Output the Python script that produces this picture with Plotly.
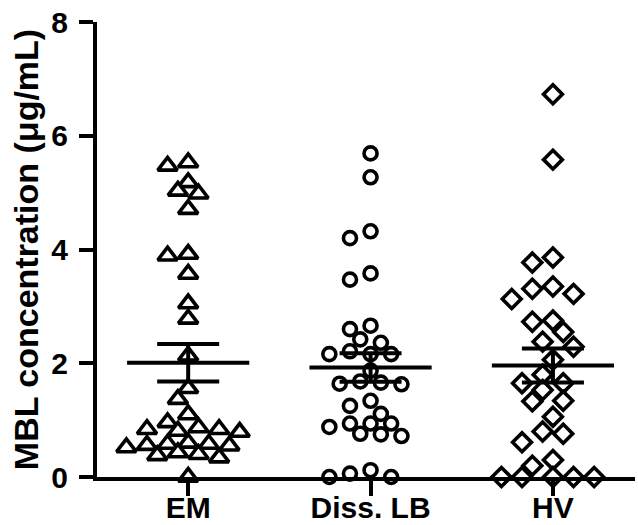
import numpy as np
import plotly.graph_objects as go

# ---------------- data ----------------
categories = ["EM", "Diss. LB", "HV"]

em_values = [5.53, 5.47, 5.18, 4.98, 5.03, 4.71, 3.92, 3.89, 3.57, 3.05, 2.78, 2.13,
             1.56, 1.37, 1.10, 0.87, 0.84, 0.96, 0.81, 0.79, 0.84, 0.60, 0.58, 0.55,
             0.56, 0.58, 0.43, 0.38, 0.34, 0.40, 0.52, 0.0]

lb_values = [5.69, 5.27, 4.32, 4.20, 3.47, 3.58, 2.66, 2.60, 2.42, 2.36, 2.16, 2.16,
             2.16, 2.21, 1.87, 1.68, 1.66, 1.63, 1.64, 1.34, 1.25, 1.11, 0.88, 0.94,
             0.94, 0.94, 0.75, 0.72, 0.76, 0.06, 0.0, 0.0, 0.12]

hv_values = [6.73, 5.58, 3.86, 3.77, 3.31, 3.13, 3.22, 3.35, 2.75, 2.73, 2.55, 2.38,
             2.29, 2.06, 1.80, 1.65, 1.53, 1.65, 1.34, 1.33, 1.06, 0.76, 0.80, 0.61,
             0.30, 0.20, 0.0, 0.0, 0.0, 0.0, 0.0]

y_tick_values = [0, 2, 4, 6, 8]
y_range = [0, 8]

# ---------------- layout constants ----------------
W, H = 638, 525
M_L, M_R, M_T, M_B = 97, 3, 22, 48
X_RANGE = [-0.5, 2.45]
FONT = "Liberation Sans, Arial, sans-serif"

plot_w = W - M_L - M_R
plot_h = H - M_T - M_B
px_per_x = plot_w / (X_RANGE[1] - X_RANGE[0])
px_per_y = plot_h / (y_range[1] - y_range[0])


def beeswarm(values, half_step_px=10.3, min_dist_px=14.0):
    """Greedy swarm layout: returns horizontal offsets (data units)."""
    vals = np.asarray(values, float)
    order = np.argsort(-vals, kind="stable")
    placed = []  # (x_px, y_px)
    offsets = np.zeros(len(vals))
    cands = [0]
    for k in range(1, 12):
        cands += [-k, k]
    for i in order:
        ypx = vals[i] * px_per_y
        for c in cands:
            xpx = c * half_step_px
            ok = all((xpx - px) ** 2 + (ypx - py) ** 2 >= min_dist_px ** 2 for px, py in placed)
            if ok:
                placed.append((xpx, ypx))
                offsets[i] = xpx / px_per_x
                break
    return offsets


groups = [
    (em_values, "triangle-up", 17, 13.3),
    (lb_values, "circle", 13, 14.0),
    (hv_values, "diamond", 14.5, 15.0),
]

fig = go.Figure()

for gi, (vals, symbol, size, dist) in enumerate(groups):
    offs = beeswarm(vals, min_dist_px=dist)
    xs = gi + offs
    fig.add_trace(go.Scatter(
        x=xs, y=vals, mode="markers", cliponaxis=False, showlegend=False,
        marker=dict(symbol=symbol, size=size, color="white",
                    line=dict(color="black", width=3.6)),
        hoverinfo="y",
    ))

# mean and SEM lines
MEAN_HALF = 0.335
SEM_HALF = 0.17
for gi, (vals, _, _, _) in enumerate(groups):
    v = np.asarray(vals, float)
    mean = v.mean()
    sem = v.std(ddof=1) / np.sqrt(len(v))
    lw = 4
    for xx, yy in (([gi - MEAN_HALF, gi + MEAN_HALF], [mean, mean]),
                   ([gi - SEM_HALF, gi + SEM_HALF], [mean + sem, mean + sem]),
                   ([gi - SEM_HALF, gi + SEM_HALF], [mean - sem, mean - sem]),
                   ([gi, gi], [mean - sem, mean + sem])):
        fig.add_trace(go.Scatter(x=xx, y=yy, mode="lines", cliponaxis=False,
                                 line=dict(color="black", width=lw),
                                 showlegend=False, hoverinfo="skip"))

fig.update_layout(
    width=W, height=H,
    margin=dict(l=M_L, r=M_R, t=M_T, b=M_B, pad=0),
    paper_bgcolor="white", plot_bgcolor="white",
    font=dict(family=FONT, size=30, color="black", weight="bold"),
    xaxis=dict(
        range=X_RANGE, tickmode="array", tickvals=[0, 1, 2], ticktext=categories,
        showline=True, linecolor="black", linewidth=4, ticks="outside", ticklen=15,
        tickwidth=4, tickcolor="black", showgrid=False, zeroline=False,
        automargin=False, ticklabelstandoff=-14,
        tickfont=dict(family=FONT, size=30, color="black", weight="bold"),
    ),
    yaxis=dict(
        range=y_range, tickmode="array", tickvals=y_tick_values,
        ticktext=[str(t) for t in y_tick_values],
        showline=True, linecolor="black", linewidth=4, ticks="outside", ticklen=14,
        tickwidth=4, tickcolor="black", showgrid=False, zeroline=False,
        automargin=False, ticklabelstandoff=5,
        tickfont=dict(family=FONT, size=30, color="black", weight="bold"),
        title=dict(text="MBL concentration (μg/mL)",
                   font=dict(family=FONT, size=34, color="black", weight="bold"), standoff=3),
    ),
)

fig.write_html(
    "out.html",
    config={"displayModeBar": False},
    post_script="document.body.style.margin='0';document.body.style.overflow='hidden';",
)
